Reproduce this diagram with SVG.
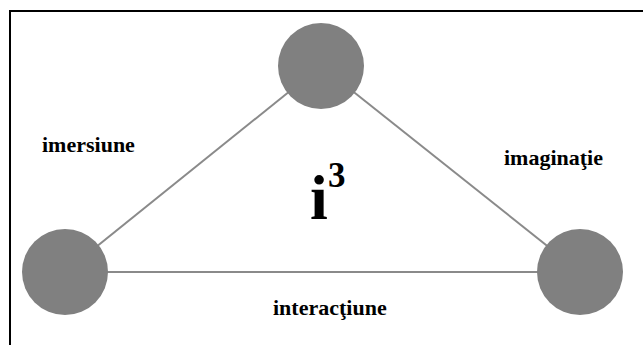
<svg xmlns="http://www.w3.org/2000/svg" width="643" height="345" viewBox="0 0 643 345">
<style>
.edge{stroke:#8a8a8a;stroke-width:2;fill:none}
.node{fill:#808080}
.lbl{font-family:"Liberation Serif","Times New Roman",serif;font-weight:bold;fill:#000}
</style>
<rect x="0" y="0" width="643" height="345" fill="#fff"/>
<rect x="10" y="11" width="700" height="400" fill="none" stroke="#000" stroke-width="2"/>
<g id="connectors">
<line class="edge" x1="65" y1="272" x2="321" y2="66"/>
<line class="edge" x1="321" y1="66" x2="580" y2="272"/>
<line class="edge" x1="65" y1="272" x2="580" y2="272"/>
</g>
<g id="node-top"><circle class="node" cx="321" cy="66" r="43"/></g>
<g id="node-left"><circle class="node" cx="65" cy="272" r="43"/></g>
<g id="node-right"><circle class="node" cx="580" cy="272" r="43"/></g>
<g id="label-imersiune"><text class="lbl" x="42" y="152" font-size="22">imersiune</text></g>
<g id="label-imaginatie"><text class="lbl" x="504" y="165" font-size="22">imaginaţie</text></g>
<g id="label-interactiune"><text class="lbl" x="273" y="315" font-size="22">interacţiune</text></g>
<g id="title"><text class="lbl" x="310" y="219" font-size="64">i</text><text class="lbl" x="328" y="187" font-size="35">3</text></g>
</svg>
